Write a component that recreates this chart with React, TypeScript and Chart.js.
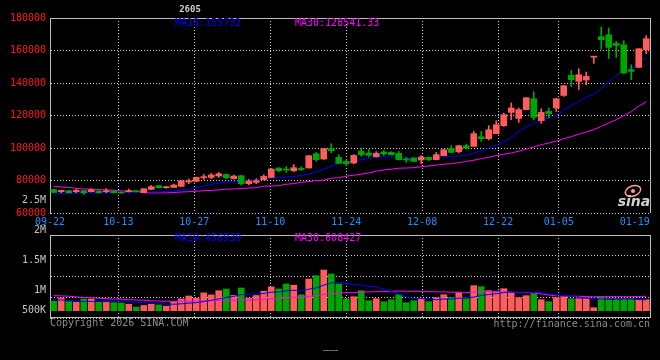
import React, { useEffect, useRef } from "react";
import { Chart, registerables } from "chart.js";

Chart.register(...registerables);

// ---------- data ----------
const dates = [
  "09-22","09-23","09-24","09-25","09-26","09-29","09-30","10-09","10-10","10-13",
  "10-14","10-15","10-16","10-17","10-20","10-21","10-22","10-23","10-24","10-27",
  "10-28","10-29","10-30","10-31","11-03","11-04","11-05","11-06","11-07","11-10",
  "11-11","11-12","11-13","11-14","11-17","11-18","11-19","11-20","11-21","11-24",
  "11-25","11-26","11-27","11-28","12-01","12-02","12-03","12-04","12-05","12-08",
  "12-09","12-10","12-11","12-12","12-15","12-16","12-17","12-18","12-19","12-22",
  "12-23","12-24","12-25","12-26","12-29","12-30","12-31","01-05","01-06","01-07",
  "01-08","01-09","01-12","01-13","01-14","01-15","01-16","01-19","01-20","01-21",
];

const dateTickLabels = ["09-22","10-13","10-27","11-10","11-24","12-08","12-22","01-05","01-19"];

const opens = [
  74340,73110,73720,73110,73720,73110,73540,73110,73540,72670,
  73110,73540,72490,74520,76800,75570,75750,76370,79070,79440,
  81720,81900,82770,83750,81100,82950,78030,78830,80490,81900,
  87690,87070,86030,87440,87690,96490,93230,99570,94220,91750,
  90770,97910,96920,94640,97540,97290,96670,93230,93840,92610,
  94210,92800,95260,99570,97720,101410,101000,106950,105720,108800,
  113720,121900,118210,123570,130340,116800,122520,124610,132370,144680,
  141010,141850,155900,168490,169720,164360,163570,148180,149600,160490,
];
const highs = [
  74770,74150,73900,74770,73900,74950,73720,74950,73720,72920,
  74770,73720,74950,76980,76980,76370,77840,79880,80920,82150,
  83750,84370,84980,84000,83380,83130,80670,81100,83570,87260,
  87880,88680,89730,88490,95260,97290,99750,102650,95880,92800,
  95880,99990,98950,97720,98520,97720,97910,94210,94030,95260,
  94460,97290,99140,101410,101600,102460,110210,110210,113720,116800,
  121520,127690,124610,130950,134650,124190,124610,130340,138340,147570,
  148800,146770,156170,174460,173850,165590,166030,151260,161110,169110,
];
const lows = [
  72490,72300,72300,72490,71440,72920,72300,72490,72300,72060,
  72920,72920,72490,74340,75380,75140,75570,76370,78030,79440,
  80670,81100,81900,81100,80920,77230,77410,78030,80310,81900,
  85410,85000,85410,86210,87690,91750,92980,96920,90520,89290,
  90340,94830,94460,94460,95440,95690,92610,91140,91570,90340,
  92180,92610,95260,97110,96920,99380,101000,104060,104920,108800,
  113290,117410,115750,123570,117230,115140,118450,122520,131760,137910,
  136060,138950,152060,160920,155140,155750,145720,142030,149600,158030,
];
const closes = [
  72670,73900,72490,73900,72490,74340,72490,73720,72490,72300,
  73720,73110,74950,76180,75570,76180,77230,79880,79690,81900,
  82340,83380,84180,81720,82770,78030,79690,79880,82520,87070,
  86030,86460,87880,86640,95260,92800,99570,98340,90520,90330,
  95440,95880,95440,96670,96310,95880,92800,92610,91750,94460,
  92800,95880,98950,97290,101410,99990,108800,105720,111260,114340,
  120490,124610,123570,130950,118830,121900,121100,130340,138340,142030,
  145110,144060,156170,166640,161910,163130,146150,147140,161110,167260,
];

const ma10 = [
  71750,71750,72000,72300,72300,72300,72300,72370,72610,72670,
  72670,72800,72920,72980,72980,73110,73600,74030,74770,75690,
  76490,77540,78460,79080,79380,80000,80180,80180,80800,81540,
  81720,82150,82340,83140,83880,85410,86950,88800,90460,91260,
  92000,92800,93600,94340,94460,94640,94340,93840,93720,93840,
  93840,94030,94340,94640,95070,95690,96800,98340,99880,101720,
  103880,106340,110030,112800,115260,117110,118650,120180,123260,126340,
  128310,131260,133110,136490,140800,144490,147260,149110,152180,155732,
];
const ma30 = [
  76490,76000,75750,75140,74770,74640,74340,74210,74030,73540,
  73540,73410,72490,72370,72370,72370,72610,72920,73110,73410,
  73720,73910,74210,74640,74770,75070,75380,75570,76490,76610,
  76800,77720,78030,78950,79260,80000,80180,81410,81720,82640,
  83260,83880,84610,85720,86460,86950,87570,87690,87880,88490,
  88920,89410,90030,90340,90950,91690,92490,93410,94340,95260,
  96180,96920,98030,99260,100610,102030,103080,104180,105720,106950,
  108490,109840,111260,113290,115380,117410,119880,122340,125720,128541.33,
];

const volumes = [
  399000,533000,378000,349000,491000,491000,349000,349000,336000,323000,
  273000,155000,218000,273000,244000,189000,370000,496000,617000,525000,
  748000,664000,840000,911000,643000,953000,525000,638000,819000,1000000,
  911000,1121000,1071000,672000,1331000,1470000,1709000,1541000,1121000,491000,
  588000,840000,420000,504000,378000,462000,672000,336000,420000,504000,
  378000,546000,672000,546000,756000,504000,1050000,1008000,840000,798000,
  924000,756000,546000,630000,714000,462000,378000,546000,588000,504000,
  504000,504000,126000,588000,504000,504000,504000,504000,462000,462000,
];
const volMa10 = [
  449000,449000,441000,399000,391000,391000,391000,391000,391000,400000,
  387000,349000,333000,326000,301000,271000,273000,288000,316000,336000,
  383000,434000,496000,560000,600000,677000,692000,706000,727000,774000,
  790000,836000,859000,835000,904000,956000,1074000,1165000,1195000,1144000,
  1112000,1084000,1019000,1002000,906000,806000,702000,581000,511000,512000,
  491000,462000,487000,491000,529000,533000,571000,638000,680000,710000,
  764000,785000,773000,781000,777000,773000,706000,659000,634000,605000,
  563000,538000,496000,491000,470000,475000,487000,483000,470000,456939,
];
const volMa30 = [
  630000,622000,609000,580000,554000,538000,525000,504000,491000,483000,
  462000,449000,441000,420000,403000,395000,391000,391000,395000,403000,
  412000,420000,424000,433000,441000,449000,449000,454000,470000,504000,
  521000,542000,563000,575000,601000,634000,680000,718000,748000,752000,
  760000,785000,790000,798000,802000,815000,823000,819000,811000,811000,
  798000,794000,790000,777000,781000,764000,781000,794000,794000,790000,
  790000,777000,760000,760000,739000,706000,659000,626000,609000,609000,
  605000,596000,584000,588000,592000,592000,588000,592000,596000,608427,
];

const volTickLabels = ["2.5M", "2M", "1.5M", "1M", "500K"];
const titleText = "2605";
const copyrightText = "Copyright 2026 SINA.COM";
const urlText = "http://finance.sina.com.cn";

// ---------- styles ----------
const UP = "#ff5c5c";
const DOWN = "#00a600";
const GRID = "#cfcfcf";
const FRAME = "#bdbdbd";
const MA10C = "#0000ff";
const MA30C = "#ff00ff";
const MONO = "'DejaVu Sans Mono', 'Liberation Mono', monospace";

const candleColors = closes.map((c, i) => (c >= opens[i] ? UP : DOWN));

function dateAxis(showLabels: boolean) {
  return {
    type: "category",
    position: "bottom",
    offset: false,
    grid: {
      offset: false,
      drawTicks: false,
      lineWidth: 1,
      color: (c: any) =>
        c.index === 0 || c.index === dateTickLabels.length - 1 ? "rgba(0,0,0,0)" : GRID,
    },
    border: { display: false, dash: [1, 2] },
    ticks: {
      display: showLabels,
      autoSkip: false,
      maxRotation: 0,
      minRotation: 0,
      color: "#1e90ff",
      font: { family: MONO, size: 10 },
      padding: 3,
    },
    afterBuildTicks: (s: any) => {
      s.ticks = s.ticks.filter((t: any) => dateTickLabels.includes(dates[t.value]));
    },
    afterFit: (s: any) => {
      s.height = showLabels ? 20 : 0;
    },
  };
}

const mainOverlay = {
  id: "mainOverlay",
  beforeDatasetsDraw(chart: any) {
    const { ctx, chartArea: a } = chart;
    ctx.save();
    ctx.strokeStyle = FRAME;
    ctx.lineWidth = 1;
    ctx.beginPath();
    ctx.moveTo(a.left, Math.round(a.top) + 0.5);
    ctx.lineTo(a.right + 1, Math.round(a.top) + 0.5);
    ctx.moveTo(Math.round(a.right) + 0.5, a.top);
    ctx.lineTo(Math.round(a.right) + 0.5, a.bottom);
    ctx.stroke();
    ctx.restore();
  },
  afterDraw(chart: any) {
    const { ctx, chartArea: a } = chart;
    ctx.save();
    ctx.textBaseline = "middle";
    ctx.textAlign = "left";
    ctx.font = `10px ${MONO}`;
    ctx.fillStyle = MA10C;
    ctx.fillText(`MA10:${ma10[ma10.length - 1]}`, a.left + 125, a.top + 5);
    ctx.fillStyle = MA30C;
    ctx.fillText(`MA30:${ma30[ma30.length - 1].toFixed(2)}`, a.left + 245, a.top + 5);

    // title
    ctx.textAlign = "center";
    ctx.font = `bold 9px ${MONO}`;
    ctx.fillStyle = "#d0d0d0";
    ctx.fillText(titleText, a.left + 140, a.top - 8);

    // sina logo
    const lx = a.right - 17;
    const ly = a.bottom - 22;
    ctx.strokeStyle = "#ff9c9c";
    ctx.fillStyle = "#ff9c9c";
    ctx.lineWidth = 1.5;
    ctx.beginPath();
    ctx.ellipse(lx, ly, 8, 5, -0.35, 0, Math.PI * 2);
    ctx.stroke();
    ctx.beginPath();
    ctx.arc(lx, ly, 2, 0, Math.PI * 2);
    ctx.fill();
    ctx.font = "italic bold 14px 'DejaVu Sans', sans-serif";
    ctx.fillStyle = "#d2d2d2";
    ctx.fillText("sina", lx + 1, ly + 11);
    ctx.restore();
  },
};

const volOverlay = {
  id: "volOverlay",
  beforeDatasetsDraw(chart: any) {
    const { ctx, chartArea: a } = chart;
    ctx.save();
    ctx.strokeStyle = FRAME;
    ctx.lineWidth = 1;
    ctx.beginPath();
    ctx.moveTo(a.left, Math.round(a.top) + 0.5);
    ctx.lineTo(a.right + 1, Math.round(a.top) + 0.5);
    ctx.moveTo(Math.round(a.right) + 0.5, a.top);
    ctx.lineTo(Math.round(a.right) + 0.5, a.bottom);
    ctx.moveTo(a.left, Math.round(a.bottom) - 0.5);
    ctx.lineTo(a.right + 1, Math.round(a.bottom) - 0.5);
    ctx.stroke();
    ctx.restore();
  },
  afterDraw(chart: any) {
    const { ctx, chartArea: a } = chart;
    ctx.save();
    ctx.textBaseline = "middle";
    ctx.font = `10px ${MONO}`;
    ctx.textAlign = "left";
    ctx.fillStyle = MA10C;
    ctx.fillText(`MA10:${Math.round(volMa10[volMa10.length - 1])}`, a.left + 125, a.top + 3.5);
    ctx.fillStyle = MA30C;
    ctx.fillText(`MA30:${Math.round(volMa30[volMa30.length - 1])}`, a.left + 245, a.top + 3.5);

    // volume axis labels
    const offsets = [-34.5, -4.5, 25.5, 55.5, 75.5];
    ctx.textAlign = "right";
    ctx.fillStyle = "#c4c4c4";
    volTickLabels.forEach((t, k) => ctx.fillText(t, a.left - 4, a.top + offsets[k]));

    // footer
    ctx.fillStyle = "#8c8c8c";
    ctx.textAlign = "left";
    ctx.fillText(copyrightText, a.left, a.bottom + 5.5);
    ctx.textAlign = "right";
    ctx.fillText(urlText, a.right, a.bottom + 6);

    ctx.strokeStyle = "#6a6a6a";
    ctx.lineWidth = 1;
    ctx.beginPath();
    ctx.moveTo(a.left + 273, 350.5);
    ctx.lineTo(a.left + 288, 350.5);
    ctx.stroke();
    ctx.restore();
  },
};

export default function App() {
  const mainRef = useRef<HTMLCanvasElement | null>(null);
  const volRef = useRef<HTMLCanvasElement | null>(null);

  useEffect(() => {
    document.body.style.margin = "0";
    document.body.style.background = "#000";

    const main = new Chart(mainRef.current as HTMLCanvasElement, {
      type: "bar",
      data: {
        labels: dates,
        datasets: [
          {
            type: "line",
            data: ma10,
            borderColor: MA10C,
            borderWidth: 1,
            pointRadius: 0,
            fill: false,
            order: 2,
            xAxisID: "x",
            yAxisID: "y",
          },
          {
            type: "line",
            data: ma30,
            borderColor: MA30C,
            borderWidth: 1,
            pointRadius: 0,
            fill: false,
            order: 2,
            xAxisID: "x",
            yAxisID: "y",
          },
          {
            type: "bar",
            data: lows.map((l, i) => [l, highs[i]]),
            backgroundColor: candleColors,
            barThickness: 1,
            grouped: false,
            minBarLength: 1,
            order: 1,
            xAxisID: "x",
            yAxisID: "y",
          },
          {
            type: "bar",
            data: opens.map((o, i) => [o, closes[i]]),
            backgroundColor: candleColors,
            barThickness: 6,
            grouped: false,
            minBarLength: 1,
            order: 0,
            xAxisID: "x",
            yAxisID: "y",
          },
        ],
      } as any,
      options: {
        animation: false,
        responsive: false,
        layout: { padding: { left: 0, right: 10, top: 18, bottom: 127 } },
        plugins: { legend: { display: false }, tooltip: { enabled: false } },
        scales: {
          x: { type: "category", offset: true, display: false },
          xd: dateAxis(true),
          y: {
            type: "linear",
            min: 60000,
            max: 180000,
            beginAtZero: false,
            grid: { color: GRID, drawTicks: false, lineWidth: 1 },
            border: { display: true, color: FRAME, dash: [1, 2] },
            ticks: {
              stepSize: 20000,
              color: "#ff1a1a",
              font: { family: MONO, size: 10 },
              padding: 4,
              callback: (v: any) => String(v),
            },
            afterFit: (s: any) => {
              s.width = 50;
            },
          },
        },
      } as any,
      plugins: [mainOverlay],
    });

    const vol = new Chart(volRef.current as HTMLCanvasElement, {
      type: "bar",
      data: {
        labels: dates,
        datasets: [
          {
            type: "line",
            data: volMa10,
            borderColor: MA10C,
            borderWidth: 1,
            pointRadius: 0,
            fill: false,
            order: 0,
            xAxisID: "x",
            yAxisID: "y",
          },
          {
            type: "line",
            data: volMa30,
            borderColor: MA30C,
            borderWidth: 1,
            pointRadius: 0,
            fill: false,
            order: 0,
            xAxisID: "x",
            yAxisID: "y",
          },
          {
            type: "bar",
            data: volumes,
            backgroundColor: candleColors,
            barThickness: 6,
            order: 1,
            xAxisID: "x",
            yAxisID: "y",
          },
        ],
      } as any,
      options: {
        animation: false,
        responsive: false,
        layout: { padding: { left: 0, right: 10, top: 235, bottom: 42 } },
        plugins: { legend: { display: false }, tooltip: { enabled: false } },
        scales: {
          x: { type: "category", offset: true, display: false },
          xd: dateAxis(false),
          y: {
            type: "linear",
            min: -307000,
            max: 3179000,
            beginAtZero: false,
            grid: { color: GRID, drawTicks: false, lineWidth: 1 },
            border: { display: true, color: FRAME, dash: [1, 2] },
            ticks: { display: false },
            afterBuildTicks: (s: any) => {
              const step = (s.max - s.min) / 4;
              s.ticks = [0, 1, 2, 3, 4].map((k) => ({ value: s.min + k * step }));
            },
            afterFit: (s: any) => {
              s.width = 50;
            },
          },
        },
      } as any,
      plugins: [volOverlay],
    });

    return () => {
      main.destroy();
      vol.destroy();
    };
  }, []);

  return (
    <div
      style={{
        position: "fixed",
        left: 0,
        top: 0,
        width: 660,
        height: 360,
        background: "#000",
        overflow: "hidden",
      }}
    >
      <canvas ref={mainRef} width={660} height={360} style={{ position: "absolute", left: 0, top: 0 }} />
      <canvas ref={volRef} width={660} height={360} style={{ position: "absolute", left: 0, top: 0 }} />
    </div>
  );
}
